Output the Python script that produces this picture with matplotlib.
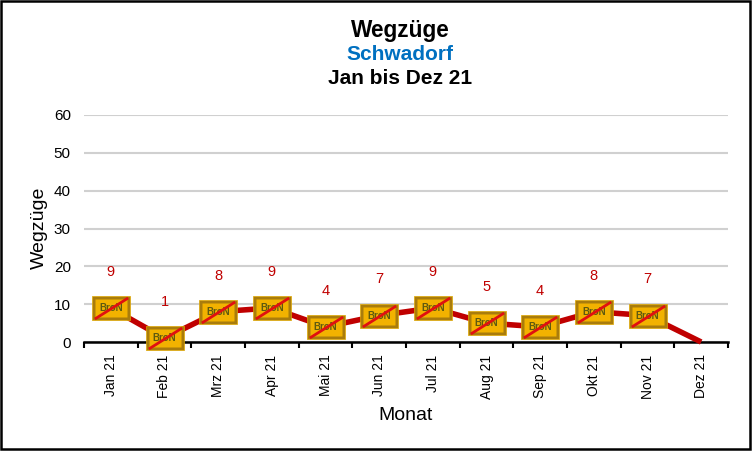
import matplotlib.pyplot as plt
import numpy as np
from matplotlib.path import Path
from matplotlib.patches import Rectangle

plt.rcParams['font.family'] = ['Liberation Sans', 'DejaVu Sans']

months = ['Jan 21', 'Feb 21', 'Mrz 21', 'Apr 21', 'Mai 21', 'Jun 21',
          'Jul 21', 'Aug 21', 'Sep 21', 'Okt 21', 'Nov 21', 'Dez 21']
values = [9, 1, 8, 9, 4, 7, 9, 5, 4, 8, 7, 0]
y_ticks = [0, 10, 20, 30, 40, 50, 60]
sign_months = 11  # Dez 21 has no sign

W, H = 752, 451
fig = plt.figure(figsize=(W / 100, H / 100), dpi=100)
ax = fig.add_axes([84 / W, 1 - 342 / H, (728 - 84) / W, (342 - 115) / H])

x = np.arange(len(months)) + 0.5

# sign shapes, width 1 -> markersize
ratio = 0.63
box = Path([(-1, -ratio), (1, -ratio), (1, ratio), (-1, ratio), (-1, -ratio)])
inner = Path([(-0.84, -0.46), (0.84, -0.46), (0.84, 0.46), (-0.84, 0.46), (-0.84, -0.46)])
slash = Path([(-1, -ratio), (1, ratio)])

ax.plot(x, values, color='#C00000', lw=4, solid_capstyle='butt', zorder=3, clip_on=False)
ax.plot(x[:sign_months], values[:sign_months], ls='none', marker=box, ms=27, mfc='#A97C0C',
        mec='#E0A800', mew=0.5, zorder=4, clip_on=False)
ax.plot(x[:sign_months], values[:sign_months], ls='none', marker=inner, ms=23, mfc='#F2B200',
        mec='none', zorder=5, clip_on=False)
for xi, v in zip(x[:sign_months], values[:sign_months]):
    ax.annotate('BroN', (xi, v), ha='center', va='center', fontsize=7, color='#5E5A10',
                fontweight='bold', zorder=6, annotation_clip=False)
ax.plot(x[:sign_months], values[:sign_months], ls='none', marker=slash, ms=24, mec='#E01010',
        mew=2.0, zorder=7, clip_on=False)

# value labels, Dez has none
for xi, v in zip(x[:sign_months], values[:sign_months]):
    ax.annotate(str(v), (xi, v), xytext=(0, 26), textcoords='offset points', ha='center',
                va='center', fontsize=10.5, color='#C00000', annotation_clip=False)

ax.set_xlim(0, 12)
ax.set_ylim(0, 60)
ax.set_yticks(y_ticks)
ax.grid(axis='y', color='#D0D0D0', lw=1.5)
ax.set_axisbelow(True)
ax.set_xticks(np.arange(13))
ax.set_xticklabels([])
ax.set_xticks(x, months, minor=True, rotation=90, fontsize=10)
ax.tick_params(axis='x', which='major', length=4, width=1.5, color='black')
ax.tick_params(axis='x', which='minor', length=0, pad=9)
ax.tick_params(axis='y', length=0, labelsize=11, pad=9.5)
for s in ['top', 'right', 'left']:
    ax.spines[s].set_visible(False)
ax.spines['bottom'].set_linewidth(1.8)

fig.text(406 / W, 1 - 415 / H, 'Monat', ha='center', va='center', fontsize=14)
fig.text(39 / W, 1 - 228 / H, 'Wegzüge', ha='center', va='center', rotation=90, fontsize=14)

fig.text(400 / W, 1 - 30 / H, 'Wegzüge', ha='center', va='center', fontsize=16.3, fontweight='bold')
fig.text(400 / W, 1 - 54 / H, 'Schwadorf', ha='center', va='center', fontsize=15, fontweight='bold',
         color='#0070C0')
fig.text(400 / W, 1 - 78 / H, 'Jan bis Dez 21', ha='center', va='center', fontsize=15, fontweight='bold')

# outer frame of the picture
fig.add_artist(Rectangle((1 / W, 2 / H), 749 / W, 448 / H, transform=fig.transFigure,
                         fill=False, ec='black', lw=1.8))

plt.savefig('out.png', dpi=100)
